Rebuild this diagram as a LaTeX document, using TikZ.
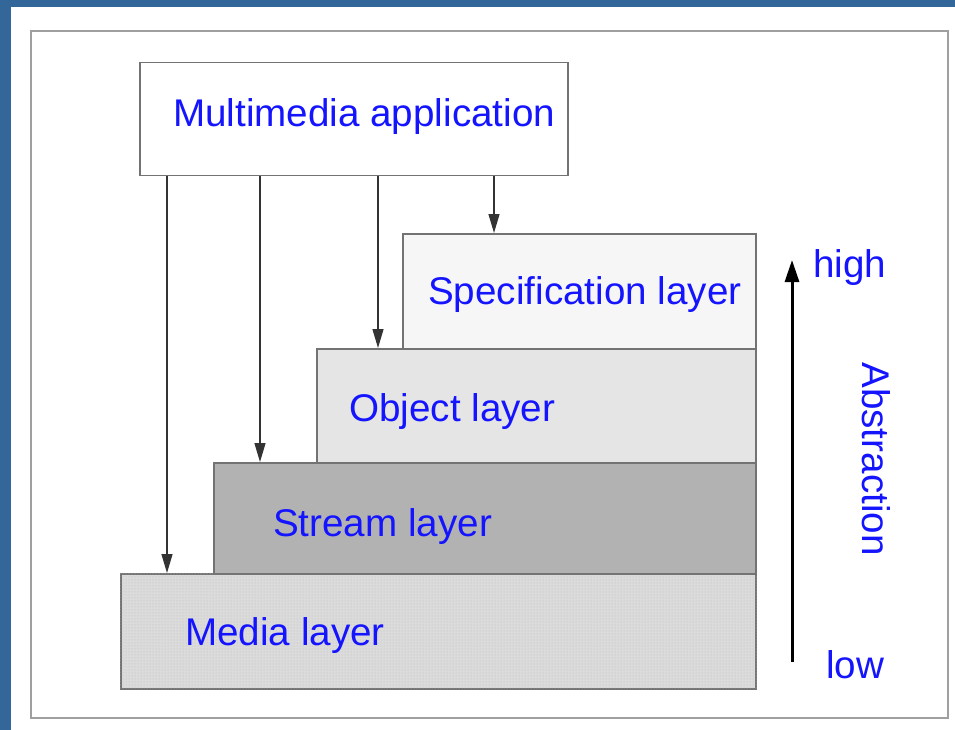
\documentclass[tikz,border=0pt]{standalone}
\usepackage{fontspec}
\setmainfont{Liberation Sans}
\usetikzlibrary{arrows.meta,patterns}
\definecolor{framebl}{RGB}{51,102,153}
\definecolor{labelbl}{RGB}{20,20,255}
\begin{document}
\begin{tikzpicture}[x=1pt,y=-1pt]
    \tikzstyle{layer box}=[draw=gray!90!black,line width=1.5pt,anchor=north west,inner sep=0]
    \tikzstyle{layer text}=[text=labelbl,font=\fontsize{38.6}{42}\selectfont,anchor=west,inner sep=0]
    \tikzset{
    down arrow/.style={draw=black!80,line width=1.3pt,-{Triangle[length=19pt,width=11pt]}},
    up arrow/.style={draw=black,line width=3pt,-{Triangle[length=22pt,width=14pt]}}
    }
    \useasboundingbox (0,0) rectangle (955,730);
    % page frame
    \fill[framebl] (0,0) rectangle (11,730);
    \fill[framebl] (0,0) rectangle (955,7);
    \draw[gray!75,line width=2pt] (31,31) rectangle (948,718);
    % layers
    \node[layer box,fill=gray!28,minimum width=635pt,minimum height=115pt] (media) at (120,573) {};
    \fill[pattern=dots,pattern color=gray!55] (media.north west) rectangle (media.south east);
    \node[layer box,fill=gray!60,minimum width=542pt,minimum height=111pt] (stream) at (213,462) {};
    \node[layer box,fill=gray!20,minimum width=439pt,minimum height=114pt] (object) at (316,348) {};
    \node[layer box,fill=gray!7,minimum width=353pt,minimum height=115pt] (spec) at (402,233) {};
    \node[layer box,fill=white,minimum width=428pt,minimum height=113pt] (app) at (139,62) {};
    % labels
    \node[layer text] (apptxt) at (173,117) {Multimedia application};
    \node[layer text] (spectxt) at (428,295) {Specification layer};
    \node[layer text] (objecttxt) at (349,412) {Object layer};
    \node[layer text] (streamtxt) at (273,527) {Stream layer};
    \node[layer text] (mediatxt) at (185,636) {Media layer};
    % access arrows
    \draw[down arrow] (app.south -| 167,0) -- (media.north -| 167,0);
    \draw[down arrow] (app.south -| 260,0) -- (stream.north -| 260,0);
    \draw[down arrow] (app.south -| 378,0) -- (object.north -| 378,0);
    \draw[down arrow] (app.south -| 494,0) -- (spec.north -| 494,0);
    % abstraction scale
    \coordinate (lowend) at (792,662);
    \coordinate (highend) at (792,260);
    \draw[up arrow] (lowend) -- (highend);
    \node[layer text] (high) at (813,268) {high};
    \node[layer text] (low) at (826,665) {low};
    \node[layer text,anchor=center,rotate=-90] (abstr) at (876,459) {Abstraction};
\end{tikzpicture}
\end{document}
